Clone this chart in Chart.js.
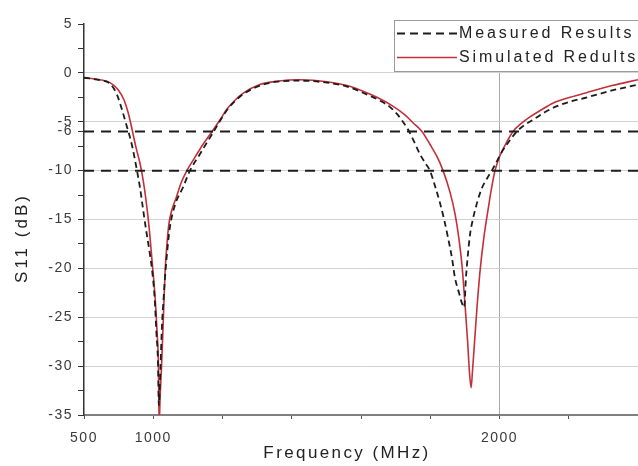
<!DOCTYPE html>
<html>
<head>
<meta charset="utf-8">
<script src="https://cdn.jsdelivr.net/npm/chart.js@4.4.1/dist/chart.umd.min.js"></script>
<style>
  html,body{margin:0;padding:0;background:#fff;}
  canvas{display:block;}
</style>
</head>
<body>
<canvas id="c" width="638" height="466"></canvas>
<script>
// ---- data ----
const simFreq = [800, 846, 875, 898, 916, 927, 939, 950, 962, 970, 979, 988, 996, 1005, 1011, 1015, 1017,
  1020, 1024, 1029, 1034, 1039, 1045, 1054, 1066, 1080, 1097, 1121, 1144, 1170, 1193, 1213, 1236, 1259, 1308, 1357, 1424, 1502, 1560, 1597, 1646, 1692, 1727, 1750, 1776, 1799, 1820, 1837, 1857, 1872, 1883, 1892, 1900, 1908, 1913, 1918,
  1922, 1928, 1935, 1944, 1955, 1967, 1976, 1987, 2001, 2019, 2039, 2062, 2088, 2120, 2154, 2204, 2253, 2325, 2400];
const simS11 = [-0.5, -0.7, -1.0, -1.7, -2.8, -4.0, -5.8, -7.6, -9.3, -10.8, -13.0, -15.8, -19.0, -22.8, -26.5, -30, -36,
  -33, -30, -25.3, -20.5, -17.8, -15.5, -14.0, -12.8, -11.3, -10, -8.6, -7.3, -6.0, -4.8, -3.7, -2.8, -2.1, -1.2, -0.85, -0.7, -0.9, -1.3, -1.75, -2.5, -3.4, -4.3, -5.1, -6.0, -7.3, -8.6, -10, -12.2, -14.5, -17, -19.8, -23.5, -27.5, -30.5, -32.2,
  -30.5, -27.5, -24, -20.2, -16.8, -14, -12, -10, -8.5, -7.2, -6.0, -5.2, -4.5, -3.8, -3.1, -2.5, -2.0, -1.3, -0.7];

const measFreq = [800, 846, 875, 895, 910, 924, 933, 941, 953, 962, 970, 979, 988, 996, 1004, 1009, 1014, 1016,
  1021, 1025, 1030, 1034, 1041, 1048, 1063, 1086, 1106, 1135, 1152, 1173, 1193, 1213, 1236, 1259, 1308, 1357, 1424, 1502, 1560, 1597, 1626, 1655, 1684, 1704, 1721, 1736, 1753, 1770, 1785, 1799, 1814, 1828, 1840, 1851, 1863, 1871, 1883, 1892, 1898,
  1903, 1909, 1915, 1923, 1935, 1949, 1964, 1981, 1996, 2010, 2030, 2050, 2074, 2097, 2132, 2166, 2209, 2253, 2325, 2400];
const measS11 = [-0.5, -0.75, -1.1, -2.2, -3.8, -5.5, -6.6, -7.8, -10, -11.8, -13.8, -16, -18, -20, -23, -26.5, -30, -34,
  -30, -26, -23, -20.9, -18, -15.8, -13.5, -11.7, -10, -8.3, -7.3, -6.1, -4.9, -3.8, -2.9, -2.2, -1.3, -0.9, -0.8, -1.0, -1.4, -1.9, -2.35, -2.85, -3.5, -4.2, -5.0, -5.8, -7.0, -8.3, -9.2, -10, -11.6, -13.3, -15, -16.8, -19, -20.9, -22.5, -23.6, -24,
  -21, -18.5, -16.5, -15.0, -13.3, -11.8, -10.8, -9.8, -8.8, -7.9, -6.9, -6.0, -5.3, -4.8, -4.0, -3.4, -2.9, -2.5, -1.8, -1.2];

const refLevels = [-6, -10];

// x axis: the reference labels its left edge "500", then 1000 and 2000
const xRange = [800, 2400];
const xMajorTicks = [800, 1000, 2000];
const xMajorLabels = ['500', '1000', '2000'];
const xMinorTicks = [1200, 1400, 1600, 1800, 2200];

const yRange = [-35, 5];
const yMajorTicks = [5, 0, -5, -6, -10, -15, -20, -25, -30, -35];
const yMinorTicks = [2.5, -2.5, -7.5, -12.5, -17.5, -22.5, -27.5, -32.5];
const yGridLines = [0, -5, -10, -15, -20, -25, -30];

const seriesNames = ['Measured Results', 'Simulated Redults'];
const xTitle = 'Frequency (MHz)';
const yTitle = 'S11 (dB)';

// ---- build ----
const toPts = (xs, ys) => xs.map((x, i) => ({x: x, y: ys[i]}));
const FONT = '"Liberation Sans", Arial, sans-serif';
const RED = '#c3303a';
const DARK = '#1c1c1c';

const datasets = [
  {label: seriesNames[0], data: toPts(measFreq, measS11), borderColor: DARK, borderWidth: 1.8,
   borderDash: [6, 4], pointRadius: 0, cubicInterpolationMode: 'monotone', fill: false, order: 2},
  {label: seriesNames[1], data: toPts(simFreq, simS11), borderColor: RED, borderWidth: 1.6,
   pointRadius: 0, cubicInterpolationMode: 'monotone', fill: false, order: 3}
];
refLevels.forEach(v => datasets.push({
  label: 'ref ' + v, data: [{x: xRange[0], y: v}, {x: xRange[1], y: v}],
  borderColor: DARK, borderWidth: 2, borderDash: [10, 7], pointRadius: 0, fill: false, order: 1
}));

const decorPlugin = {
  id: 'decor',
  beforeDraw(chart) {
    chart.ctx.letterSpacing = '1.5px';
  },
  afterDraw(chart) {
    const ctx = chart.ctx;
    ctx.save();
    // axis titles
    ctx.fillStyle = '#222';
    ctx.font = '17px ' + FONT;
    ctx.letterSpacing = '2.4px';
    ctx.textAlign = 'center';
    ctx.textBaseline = 'middle';
    ctx.fillText(xTitle, 347, 453);
    ctx.save();
    ctx.translate(22, 238);
    ctx.rotate(-Math.PI / 2);
    ctx.letterSpacing = '3px';
    ctx.fillText(yTitle, 0, 0);
    ctx.restore();

    // legend box
    ctx.fillStyle = '#ffffff';
    ctx.fillRect(394, 20, 260, 51);
    ctx.strokeStyle = '#9a9a9a';
    ctx.lineWidth = 1;
    ctx.strokeRect(394.5, 20.5, 260, 51);
    const ds = chart.data.datasets;
    const rows = [33, 57];
    for (let i = 0; i < 2; i++) {
      const d = ds[i];
      ctx.beginPath();
      ctx.strokeStyle = d.borderColor;
      ctx.lineWidth = i === 0 ? 2 : 1.6;
      ctx.setLineDash(i === 0 ? [8, 5] : []);
      ctx.moveTo(397, rows[i] + 0.5);
      ctx.lineTo(457, rows[i] + 0.5);
      ctx.stroke();
      ctx.setLineDash([]);
      ctx.fillStyle = '#222';
      ctx.font = '16px ' + FONT;
      ctx.letterSpacing = '2.9px';
      ctx.textAlign = 'left';
      ctx.textBaseline = 'middle';
      ctx.fillText(d.label, 459, rows[i] + 1);
    }
    ctx.restore();
  }
};

new Chart(document.getElementById('c'), {
  type: 'line',
  data: {datasets: datasets},
  plugins: [decorPlugin],
  options: {
    responsive: false,
    animation: false,
    layout: {padding: {top: 24, left: 0, right: 0, bottom: 0}},
    plugins: {legend: {display: false}, tooltip: {enabled: false}},
    scales: {
      x: {
        type: 'linear', min: xRange[0], max: xRange[1],
        afterBuildTicks: s => { s.ticks = xMajorTicks.concat(xMinorTicks).sort((a, b) => a - b).map(v => ({value: v})); },
        afterFit: s => { s.height = 51; },
        ticks: {
          autoSkip: false, maxRotation: 0, padding: 11,
          color: '#3a3a3a', font: {family: FONT, size: 14},
          callback: v => { const i = xMajorTicks.indexOf(v); return i >= 0 ? xMajorLabels[i] : ''; }
        },
        grid: {
          color: c => (c.tick && c.tick.value === 2000) ? '#a8a8a8' : 'rgba(0,0,0,0)',
          tickColor: '#555', tickLength: 4, lineWidth: 1
        },
        border: {color: '#808080', width: 2}
      },
      y: {
        type: 'linear', min: yRange[0], max: yRange[1],
        afterBuildTicks: s => { s.ticks = yMajorTicks.concat(yMinorTicks).sort((a, b) => b - a).map(v => ({value: v})); },
        afterFit: s => { s.width = 84; },
        ticks: {
          autoSkip: false, padding: 5,
          color: '#3a3a3a', font: {family: FONT, size: 14},
          callback: v => yMajorTicks.includes(v) ? String(v) : ''
        },
        grid: {
          color: c => (c.tick && yGridLines.includes(c.tick.value)) ? '#d2d2d2' : 'rgba(0,0,0,0)',
          tickColor: '#333', tickLength: 6, lineWidth: 1
        },
        border: {color: '#333', width: 1.5}
      }
    }
  }
});
</script>
</body>
</html>
